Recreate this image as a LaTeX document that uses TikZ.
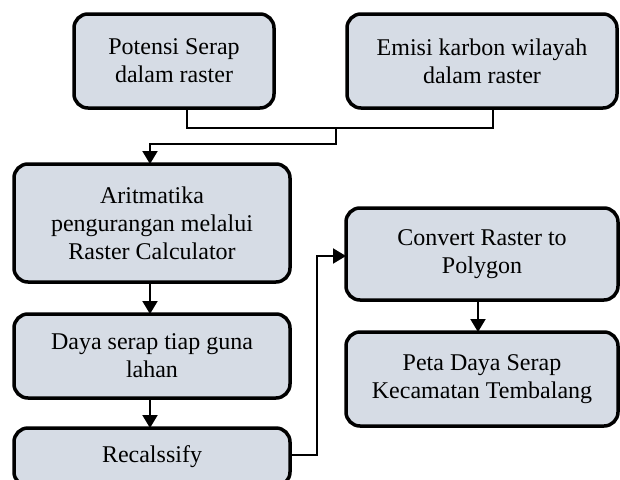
\documentclass[tikz,border=0pt]{standalone}
\usepackage{fontspec}
\setmainfont{Liberation Serif}
\usetikzlibrary{arrows.meta}
\definecolor{boxfill}{RGB}{214,220,229}
\begin{document}
\begin{tikzpicture}[x=1pt,y=-1pt,
  proc/.style n args={2}{draw=black, line width=3.5pt, fill=boxfill,
    rounded corners=14pt, inner sep=0pt, outer sep=0pt, align=center,
    font=\fontsize{24}{28}\selectfont, minimum width=#1, minimum height=#2},
  conn/.style={draw=black, line width=2pt, line join=miter},
  arr/.style={conn, -{Triangle[width=15pt,length=13pt]}}
]
\clip (0,0) rectangle (620,479);
\fill[white] (0,0) rectangle (620,479);

\node[proc={200pt}{94pt}] (pot) at (174,61) {Potensi Serap\\dalam raster};
\node[proc={270pt}{94pt}] (emi) at (482,61) {Emisi karbon wilayah\\dalam raster};
\node[proc={276pt}{118pt}] (ari) at (152,223) {Aritmatika\\pengurangan melalui\\Raster Calculator};
\node[proc={276pt}{84pt}] (day) at (152,356) {Daya serap tiap guna\\lahan};
\node[proc={276pt}{58pt}] (rec) at (152,457) {Recalssify};
\node[proc={272pt}{92pt}] (con) at (482,254) {Convert Raster to\\Polygon};
\node[proc={272pt}{94pt}] (pet) at (482,379) {Peta Daya Serap\\Kecamatan Tembalang};

\coordinate (join) at (336,128);
\draw[conn] ([xshift=13pt]pot.south) -- ++(0,20) -| ([xshift=11pt]emi.south);
\draw[arr] (join) -- (336,144) -| ([xshift=-2pt]ari.north);
\draw[arr] ([xshift=-2pt]ari.south) -- ([xshift=-2pt]day.north);
\draw[arr] ([xshift=-2pt]day.south) -- ([xshift=-2pt]rec.north);
\draw[arr] ([yshift=2pt]rec.east) -- ++(27,0) |- ([yshift=-2pt]con.west);
\draw[arr] ([xshift=-4pt]con.south) -- ([xshift=-4pt]pet.north);
\end{tikzpicture}
\end{document}
